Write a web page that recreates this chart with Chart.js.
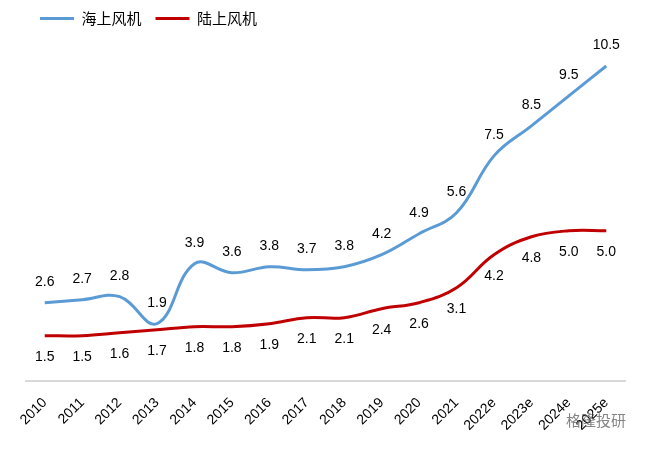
<!DOCTYPE html>
<html><head><meta charset="utf-8">
<script src="https://cdn.jsdelivr.net/npm/chart.js@4"></script>
<style>html,body{margin:0;padding:0;background:#fff}#wrap{width:645px;height:450px}</style>
</head><body><div id="wrap"><canvas id="c"></canvas></div>
<script>
const categories = ["2010","2011","2012","2013","2014","2015","2016","2017","2018","2019","2020","2021","2022e","2023e","2024e","2025e"];
const offshore = [2.6,2.7,2.8,1.9,3.9,3.6,3.8,3.7,3.8,4.2,4.9,5.6,7.5,8.5,9.5,10.5];
const onshore = [1.5,1.5,1.6,1.7,1.8,1.8,1.9,2.1,2.1,2.4,2.6,3.1,4.2,4.8,5.0,5.0];
const seriesNames = ["海上风机","陆上风机"];

const FONT = "Arial, 'Liberation Sans', 'Noto Sans CJK SC', sans-serif";
const labelPlugin = {
  id:'labels',
  afterDatasetsDraw(chart){
    const ctx = chart.ctx;
    ctx.save();
    ctx.font = "14px " + FONT;
    ctx.fillStyle = "#000";
    ctx.textAlign = "center";
    ctx.textBaseline = "middle";
    chart.data.datasets.forEach((ds,i)=>{
      const meta = chart.getDatasetMeta(i);
      meta.data.forEach((pt,j)=>{
        const off = i===0 ? -21 : 21;
        ctx.fillText(ds.data[j].toFixed(1), pt.x, pt.y + off);
      });
    });
    ctx.font = "15px 'Noto Sans CJK SC', sans-serif";
    ctx.fillStyle = "rgba(90,90,90,0.75)";
    ctx.textAlign = "left";
    ctx.fillText("格隆投研", 566, 420);
    ctx.restore();
  }
};

new Chart(document.getElementById('c'), {
  type:'line',
  data:{
    labels: categories,
    datasets:[
      {label:seriesNames[0], data:offshore, borderColor:'#5B9BD5', backgroundColor:'#5B9BD5', borderWidth:3, pointRadius:0, tension:0.4, fill:false},
      {label:seriesNames[1], data:onshore, borderColor:'#C00000', backgroundColor:'#C00000', borderWidth:3, pointRadius:0, tension:0.4, fill:false}
    ]
  },
  options:{
    responsive:true, maintainAspectRatio:false, animation:false,
    layout:{padding:{left:26,right:20,top:-3,bottom:2}},
    plugins:{
      legend:{position:'top', align:'start',
        labels:{boxWidth:34, boxHeight:3, padding:14, color:'#000', font:{size:15, family:"'Noto Sans CJK SC', sans-serif"},
          generateLabels(chart){
            return chart.data.datasets.map((d,i)=>({text:d.label, fillStyle:d.borderColor, strokeStyle:d.borderColor, lineWidth:0, datasetIndex:i}));
          }}
      },
      tooltip:{enabled:false}
    },
    scales:{
      x:{offset:true, grid:{display:false, drawTicks:false}, border:{display:true,color:'#d9d9d9',width:2},
         ticks:{maxRotation:45, minRotation:45, color:'#000', font:{size:14, family:FONT}, padding:14}},
      y:{display:false, min:0, max:11.5}
    }
  },
  plugins:[labelPlugin]
});
</script></body></html>
